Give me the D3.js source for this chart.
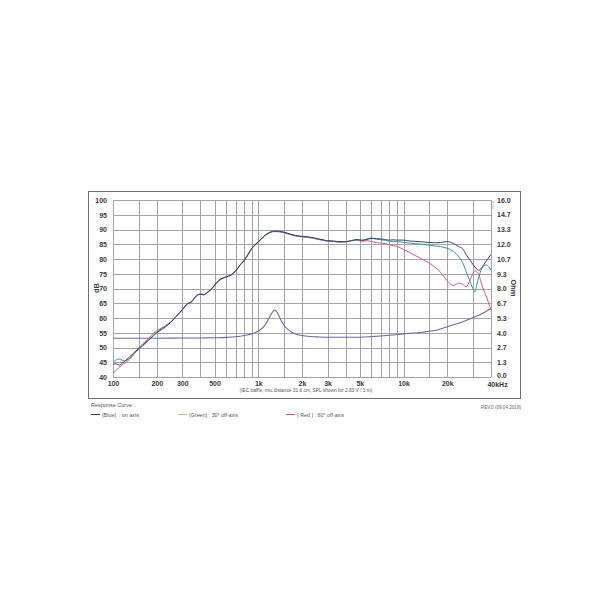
<!DOCTYPE html>
<html><head><meta charset="utf-8">
<script src="https://cdn.jsdelivr.net/npm/d3@7"></script>
<style>body{margin:0;background:#fff}svg{display:block}text{font-family:"Liberation Sans",Arial,sans-serif}</style>
</head><body>
<script>
// ---- data ----
const freqs = [100,105,110,115,120,130,140,150,160,175,190,200,215,230,250,270,300,320,350,375,400,420,450,480,500,550,600,650,700,750,800,850,900,950,1000,1050,1100,1150,1200,1250,1300,1400,1500,1600,1700,1800,2000,2200,2400,2600,2800,3000,3300,3600,4000,4400,4800,5200,5600,6000,6500,7000,7500,8000,8500,9000,10000,11000,12000,13500,15000,16500,18000,20000,22000,24000,25500,27000,28500,30000,31000,32000,33000,34000,35000,37000,40000];
const blueDb = [44.3,44.5,44.0,44.6,45.3,46.8,48.3,49.6,50.8,52.5,54.0,55.0,56.0,57.0,58.5,60.3,62.8,64.5,65.6,67.6,68.0,67.9,68.8,70.0,71.2,73.2,73.9,74.6,76.0,78.0,79.6,81.6,83.6,84.8,85.8,86.8,87.8,88.5,89.0,89.3,89.4,89.4,89.1,88.7,88.3,88.0,87.7,87.5,87.2,86.8,86.5,86.2,86.1,85.9,85.9,86.3,86.6,86.3,86.6,87.0,86.9,86.8,86.6,86.4,86.5,86.4,86.4,86.1,86.0,85.8,85.6,85.5,85.6,85.9,85.3,84.2,83.5,81.5,79.8,78.2,77.3,76.5,76.2,76.6,77.5,79.2,81.6];
const greenDb = [45.0,45.8,46.1,45.8,45.5,46.3,48.0,49.4,50.5,52.3,54.2,55.2,56.3,57.4,58.7,60.4,62.7,64.4,65.7,67.5,68.1,67.8,68.9,70.1,71.1,73.1,74.0,74.7,76.1,78.1,79.5,81.5,83.5,84.9,85.9,86.9,87.9,88.6,89.1,89.4,89.5,89.3,89.0,88.6,88.2,87.9,87.6,87.4,87.1,86.7,86.4,86.1,86.0,85.8,85.8,86.2,86.5,86.4,86.8,87.1,86.7,86.5,86.3,86.0,85.9,85.9,85.6,85.4,85.2,85.0,84.7,84.4,84.2,83.6,82.6,80.8,78.8,75.6,72.8,70.0,68.8,71.5,74.0,76.0,77.2,78.0,76.2];
const redDb = [41.3,42.2,43.2,44.0,44.6,46.0,47.8,49.8,51.2,53.0,54.8,55.6,56.6,57.3,58.6,60.2,62.9,64.6,65.8,67.4,68.2,68.0,68.7,69.9,71.0,73.0,73.8,74.5,75.9,77.9,79.5,81.4,83.4,84.7,85.7,86.7,87.7,88.4,88.9,89.2,89.3,89.2,88.9,88.5,88.1,87.8,87.5,87.3,87.0,86.6,86.3,86.0,85.9,85.7,85.8,86.2,86.4,86.0,86.2,85.9,85.6,85.4,85.2,84.8,84.5,84.3,83.2,82.2,81.2,79.9,78.6,77.2,75.5,72.6,71.0,71.8,71.4,70.6,72.5,75.0,76.0,75.5,74.8,72.5,70.5,67.5,62.7];
const impFreqs = [100,200,300,400,500,600,700,800,900,1000,1050,1100,1150,1200,1250,1290,1330,1380,1430,1500,1600,1700,1850,2000,2300,2600,3000,4000,5000,6000,8000,10000,13500,17500,20000,25000,30000,35000,40000];
const impOhm = [3.5,3.5,3.52,3.53,3.55,3.58,3.64,3.75,3.9,4.15,4.35,4.6,5.0,5.45,5.85,6.06,5.95,5.6,5.15,4.7,4.3,4.05,3.85,3.75,3.66,3.62,3.59,3.59,3.6,3.65,3.77,3.9,4.05,4.3,4.55,4.95,5.35,5.75,6.2];

const gridFreqs = [100,150,200,300,400,500,600,700,800,900,1000,1500,2000,3000,4000,5000,6000,7000,8000,9000,10000,15000,20000,30000,40000];
const xTicks = [100,200,300,500,1000,2000,3000,5000,10000,20000,40000];
const xTickLabels = ["100","200","300","500","1k","2k","3k","5k","10k","20k","40kHz"];
const dbTicks = [40,45,50,55,60,65,70,75,80,85,90,95,100];
const ohmTicks = [0,1.3333,2.6667,4,5.3333,6.6667,8,9.3333,10.6667,12,13.3333,14.6667,16];

const legendItems = ["(Blue)  : on axis","(Green) : 30° off-axis","( Red ) : 60° off-axis"];
const legendColors = ["#3c3c78","#b9c77a","#d9506e"];
const curveColors = ["#3f3f7c","#2f9c8b","#e0587a"];

// ---- drawing ----
const W=610,H=610;
const svg=d3.select("body").append("svg").attr("width",W).attr("height",H);
svg.append("rect").attr("width",W).attr("height",H).attr("fill","#fff");

const x=d3.scaleLog().domain([100,40000]).range([113,491]);
const y=d3.scaleLinear().domain([40,100]).range([377,200]);
const yR=d3.scaleLinear().domain([0,16]).range([377,200]);

// outer frame
svg.append("rect").attr("x",88.5).attr("y",191.5).attr("width",432).attr("height",207)
  .attr("fill","none").attr("stroke","#6e6e6e").attr("stroke-width",1);

// grid
const g=svg.append("g");
g.selectAll(".vg").data(gridFreqs).join("line")
  .attr("x1",d=>Math.round(x(d))+0.5).attr("x2",d=>Math.round(x(d))+0.5)
  .attr("y1",y(100)).attr("y2",y(40)).attr("stroke","#a4a4a4").attr("stroke-width",1);
g.selectAll(".hg").data(dbTicks).join("line")
  .attr("x1",x(100)).attr("x2",x(40000))
  .attr("y1",d=>Math.round(y(d))+0.5).attr("y2",d=>Math.round(y(d))+0.5)
  .attr("stroke","#a4a4a4").attr("stroke-width",1);

// axes
const styleAxis=sel=>{sel.select(".domain").remove();sel.selectAll("text").attr("fill","#3a3a3a").attr("font-size","7px").attr("font-weight","bold");};
svg.append("g").attr("transform",`translate(${x(100)},0)`)
  .call(d3.axisLeft(y).tickValues(dbTicks).tickSize(0).tickPadding(6).tickFormat(d3.format("d"))).call(styleAxis);
const ra=svg.append("g").attr("transform",`translate(${x(40000)},0)`)
  .call(d3.axisRight(yR).tickValues(ohmTicks).tickSize(0).tickPadding(6).tickFormat(d=>d.toFixed(1))).call(styleAxis);
ra.selectAll("text").filter((d,i)=>i===0).attr("dy","0.1em");
const xa=svg.append("g").attr("transform",`translate(0,${y(40)})`)
  .call(d3.axisBottom(x).tickValues(xTicks).tickSize(0).tickPadding(4).tickFormat((d,i)=>xTickLabels[i])).call(styleAxis);
xa.selectAll("text").filter((d,i)=>i===xTicks.length-1).attr("dx",6).attr("dy","0.9em");

// axis titles
svg.append("text").attr("transform","translate(99,288) rotate(-90)").attr("text-anchor","middle")
  .attr("font-size","7.5px").attr("font-weight","bold").attr("fill","#3a3a3a").text("dB");
svg.append("text").attr("transform","translate(511,288) rotate(90)").attr("text-anchor","middle")
  .attr("font-size","7.5px").attr("font-weight","bold").attr("fill","#3a3a3a").text("Ohm");
svg.append("text").attr("transform","translate(490.5,205) rotate(90)").attr("text-anchor","middle")
  .attr("font-size","3.5px").attr("fill","#999").text("D220");

// curves
const line=d3.line().x(d=>x(d[0])).y(d=>y(d[1])).curve(d3.curveMonotoneX);
const impLine=d3.line().x(d=>x(d[0])).y(d=>yR(d[1])).curve(d3.curveMonotoneX);
svg.append("path").datum(impFreqs.map((f,i)=>[f,impOhm[i]])).attr("d",impLine)
  .attr("fill","none").attr("stroke","#6b6ba6").attr("stroke-width",1.1);
[redDb,greenDb,blueDb].forEach((arr,k)=>{
  const col=[curveColors[2],curveColors[1],curveColors[0]][k];
  svg.append("path").datum(freqs.map((f,i)=>[f,arr[i]])).attr("d",line)
    .attr("fill","none").attr("stroke",col).attr("stroke-width",1);
});

// footnote inside frame
svg.append("text").attr("x",306).attr("y",392).attr("text-anchor","middle")
  .attr("font-size","4.8px").attr("fill","#555")
  .text("(IEC baffle, mic.distance 31.6 cm, SPL shown for 2.83 V / 1 m)");
svg.append("text").attr("x",521).attr("y",409).attr("text-anchor","end")
  .attr("font-size","4.6px").attr("fill","#666").text("REV.0 (09.04.2018)");

// legend
svg.append("text").attr("x",91).attr("y",407).attr("font-size","5.5px").attr("fill","#555").text("Response Curve :");
const lx=[91,178,286];
legendItems.forEach((t,i)=>{
  svg.append("line").attr("x1",lx[i]).attr("x2",lx[i]+9).attr("y1",414.5).attr("y2",414.5)
    .attr("stroke",legendColors[i]).attr("stroke-width",1);
  svg.append("text").attr("x",lx[i]+11).attr("y",416.5).attr("font-size","5.3px").attr("fill","#555")
    .attr("xml:space","preserve").style("white-space","pre").text(t);
});
</script>
</body></html>
